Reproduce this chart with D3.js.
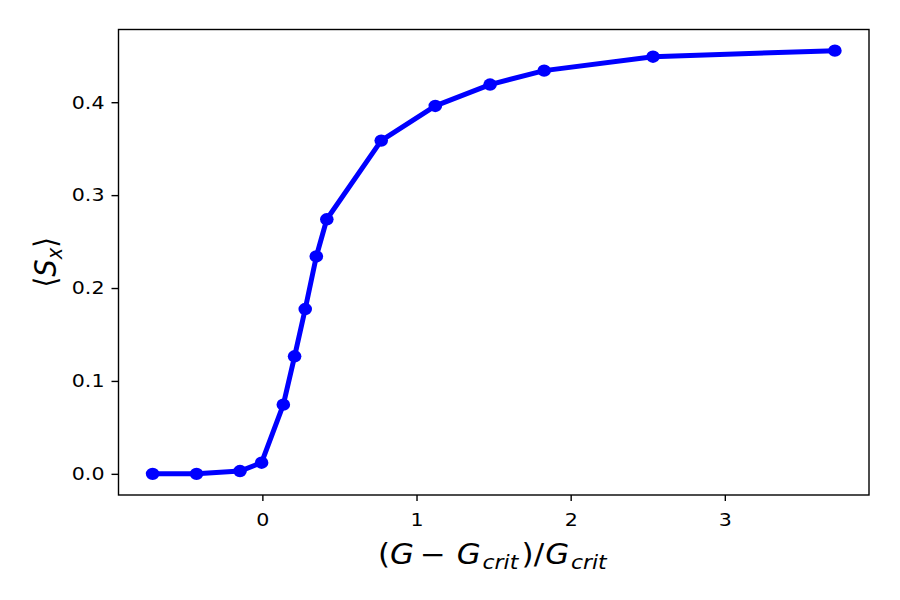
<!DOCTYPE html>
<html>
<head>
  <title>Order parameter vs reduced coupling</title>
  <style>
    body { margin: 0; background: #fff; }
  </style>
</head>
<body>
  <svg width="900" height="600"></svg>

  <script src="https://cdn.jsdelivr.net/npm/d3@7/dist/d3.min.js"></script>
  <script type="text/javascript">
    // values
    var xValues = [-0.712, -0.427, -0.145, -0.005, 0.136, 0.209, 0.278, 0.35, 0.418,
                   0.771, 1.122, 1.477, 1.828, 2.534, 3.714]
    var sxValues = [0.000, 0.000, 0.003, 0.012, 0.0745, 0.1265, 0.1774, 0.234, 0.274,
                    0.3587, 0.396, 0.419, 0.434, 0.449, 0.4555]
    var xTicks = [0, 1, 2, 3]
    var yTicks = [0.0, 0.1, 0.2, 0.3, 0.4]

    var FONT = '"DejaVu Sans", sans-serif'
    var sx = 1.125  // glyphs in the reference are stretched sideways

    var svg = d3.select("svg"),
      mLeft = 118.5, mRight = 869, mTop = 29.5, mBottom = 495

    var data = xValues.map((x, i) => ({x: x, y: sxValues[i]}))

    // matplotlib-style 5% margins
    var xr = d3.extent(xValues), yr = d3.extent(sxValues)
    var xm = (xr[1] - xr[0]) * 0.05, ym = (yr[1] - yr[0]) * 0.05
    var x = d3.scaleLinear().domain([xr[0] - xm, xr[1] + xm]).range([mLeft, mRight])
    var y = d3.scaleLinear().domain([yr[0] - ym, yr[1] + ym]).range([mBottom, mTop])

    var gx = svg.append('g')
      .attr('transform', 'translate(0,' + mBottom + ')')
      .call(d3.axisBottom(x).tickValues(xTicks).tickFormat(d3.format('d')).tickSize(6).tickPadding(12))
    var gy = svg.append('g')
      .attr('transform', 'translate(' + mLeft + ',0)')
      .call(d3.axisLeft(y).tickValues(yTicks).tickFormat(d3.format('.1f')).tickSize(7).tickPadding(7))

    svg.selectAll('.domain').remove()
    svg.selectAll('.tick line').attr('stroke', '#000').attr('stroke-width', 1.4)
    svg.selectAll('.tick text')
      .attr('fill', '#000')
      .attr('font-family', FONT)
      .attr('font-size', 18.3)
      .attr('transform', 'scale(' + sx + ',1)')
    gy.selectAll('.tick text').attr('x', -14 / sx)

    svg.append('rect')
      .attr('x', mLeft).attr('y', mTop)
      .attr('width', mRight - mLeft).attr('height', mBottom - mTop)
      .attr('fill', 'none').attr('stroke', '#000').attr('stroke-width', 1.4)

    var line = d3.line().x(d => x(d.x)).y(d => y(d.y))

    svg.append('path')
      .datum(data)
      .attr('d', line)
      .attr('fill', 'none')
      .attr('stroke', '#0000ff')
      .attr('stroke-width', 5)
      .attr('stroke-linejoin', 'round')

    svg.selectAll('.pt')
      .data(data).enter()
      .append('ellipse')
      .attr('class', 'pt')
      .attr('cx', d => x(d.x))
      .attr('cy', d => y(d.y))
      .attr('rx', 6.8)
      .attr('ry', 6.2)
      .attr('fill', '#0000ff')

    // x label: (G − G_crit)/G_crit
    var fs = 27.5, sub = 19.5, shift = 5
    var xl = svg.append('text')
      .attr('transform', 'translate(378,564) scale(' + sx + ',1)')
      .attr('font-family', FONT)
      .attr('font-size', fs)
    xl.append('tspan').text('(')
    xl.append('tspan').attr('font-style', 'italic').text('G')
    xl.append('tspan').attr('dx', 5).text('\u2212')
    xl.append('tspan').attr('dx', 10).attr('font-style', 'italic').text('G')
    xl.append('tspan').attr('dx', 1.5).attr('font-style', 'italic').attr('font-size', sub).attr('dy', shift).text('crit')
    xl.append('tspan').attr('dx', 3).attr('dy', -shift).text(')/')
    xl.append('tspan').attr('dx', 1).attr('font-style', 'italic').text('G')
    xl.append('tspan').attr('dx', 1.5).attr('font-style', 'italic').attr('font-size', sub).attr('dy', shift).text('crit')

    // y label: ⟨S_x⟩
    var yl = svg.append('text')
      .attr('transform', 'translate(56,' + ((mTop + mBottom) / 2) + ') scale(' + sx + ',1) rotate(-90)')
      .attr('text-anchor', 'middle')
      .attr('font-family', FONT)
      .attr('font-size', fs)
    yl.append('tspan').text('\u27E8')
    yl.append('tspan').attr('font-style', 'italic').text('S')
    yl.append('tspan').attr('font-style', 'italic').attr('font-size', sub).attr('dy', shift).text('x')
    yl.append('tspan').attr('dy', -shift).text('\u27E9')
  </script>
</body>
</html>
